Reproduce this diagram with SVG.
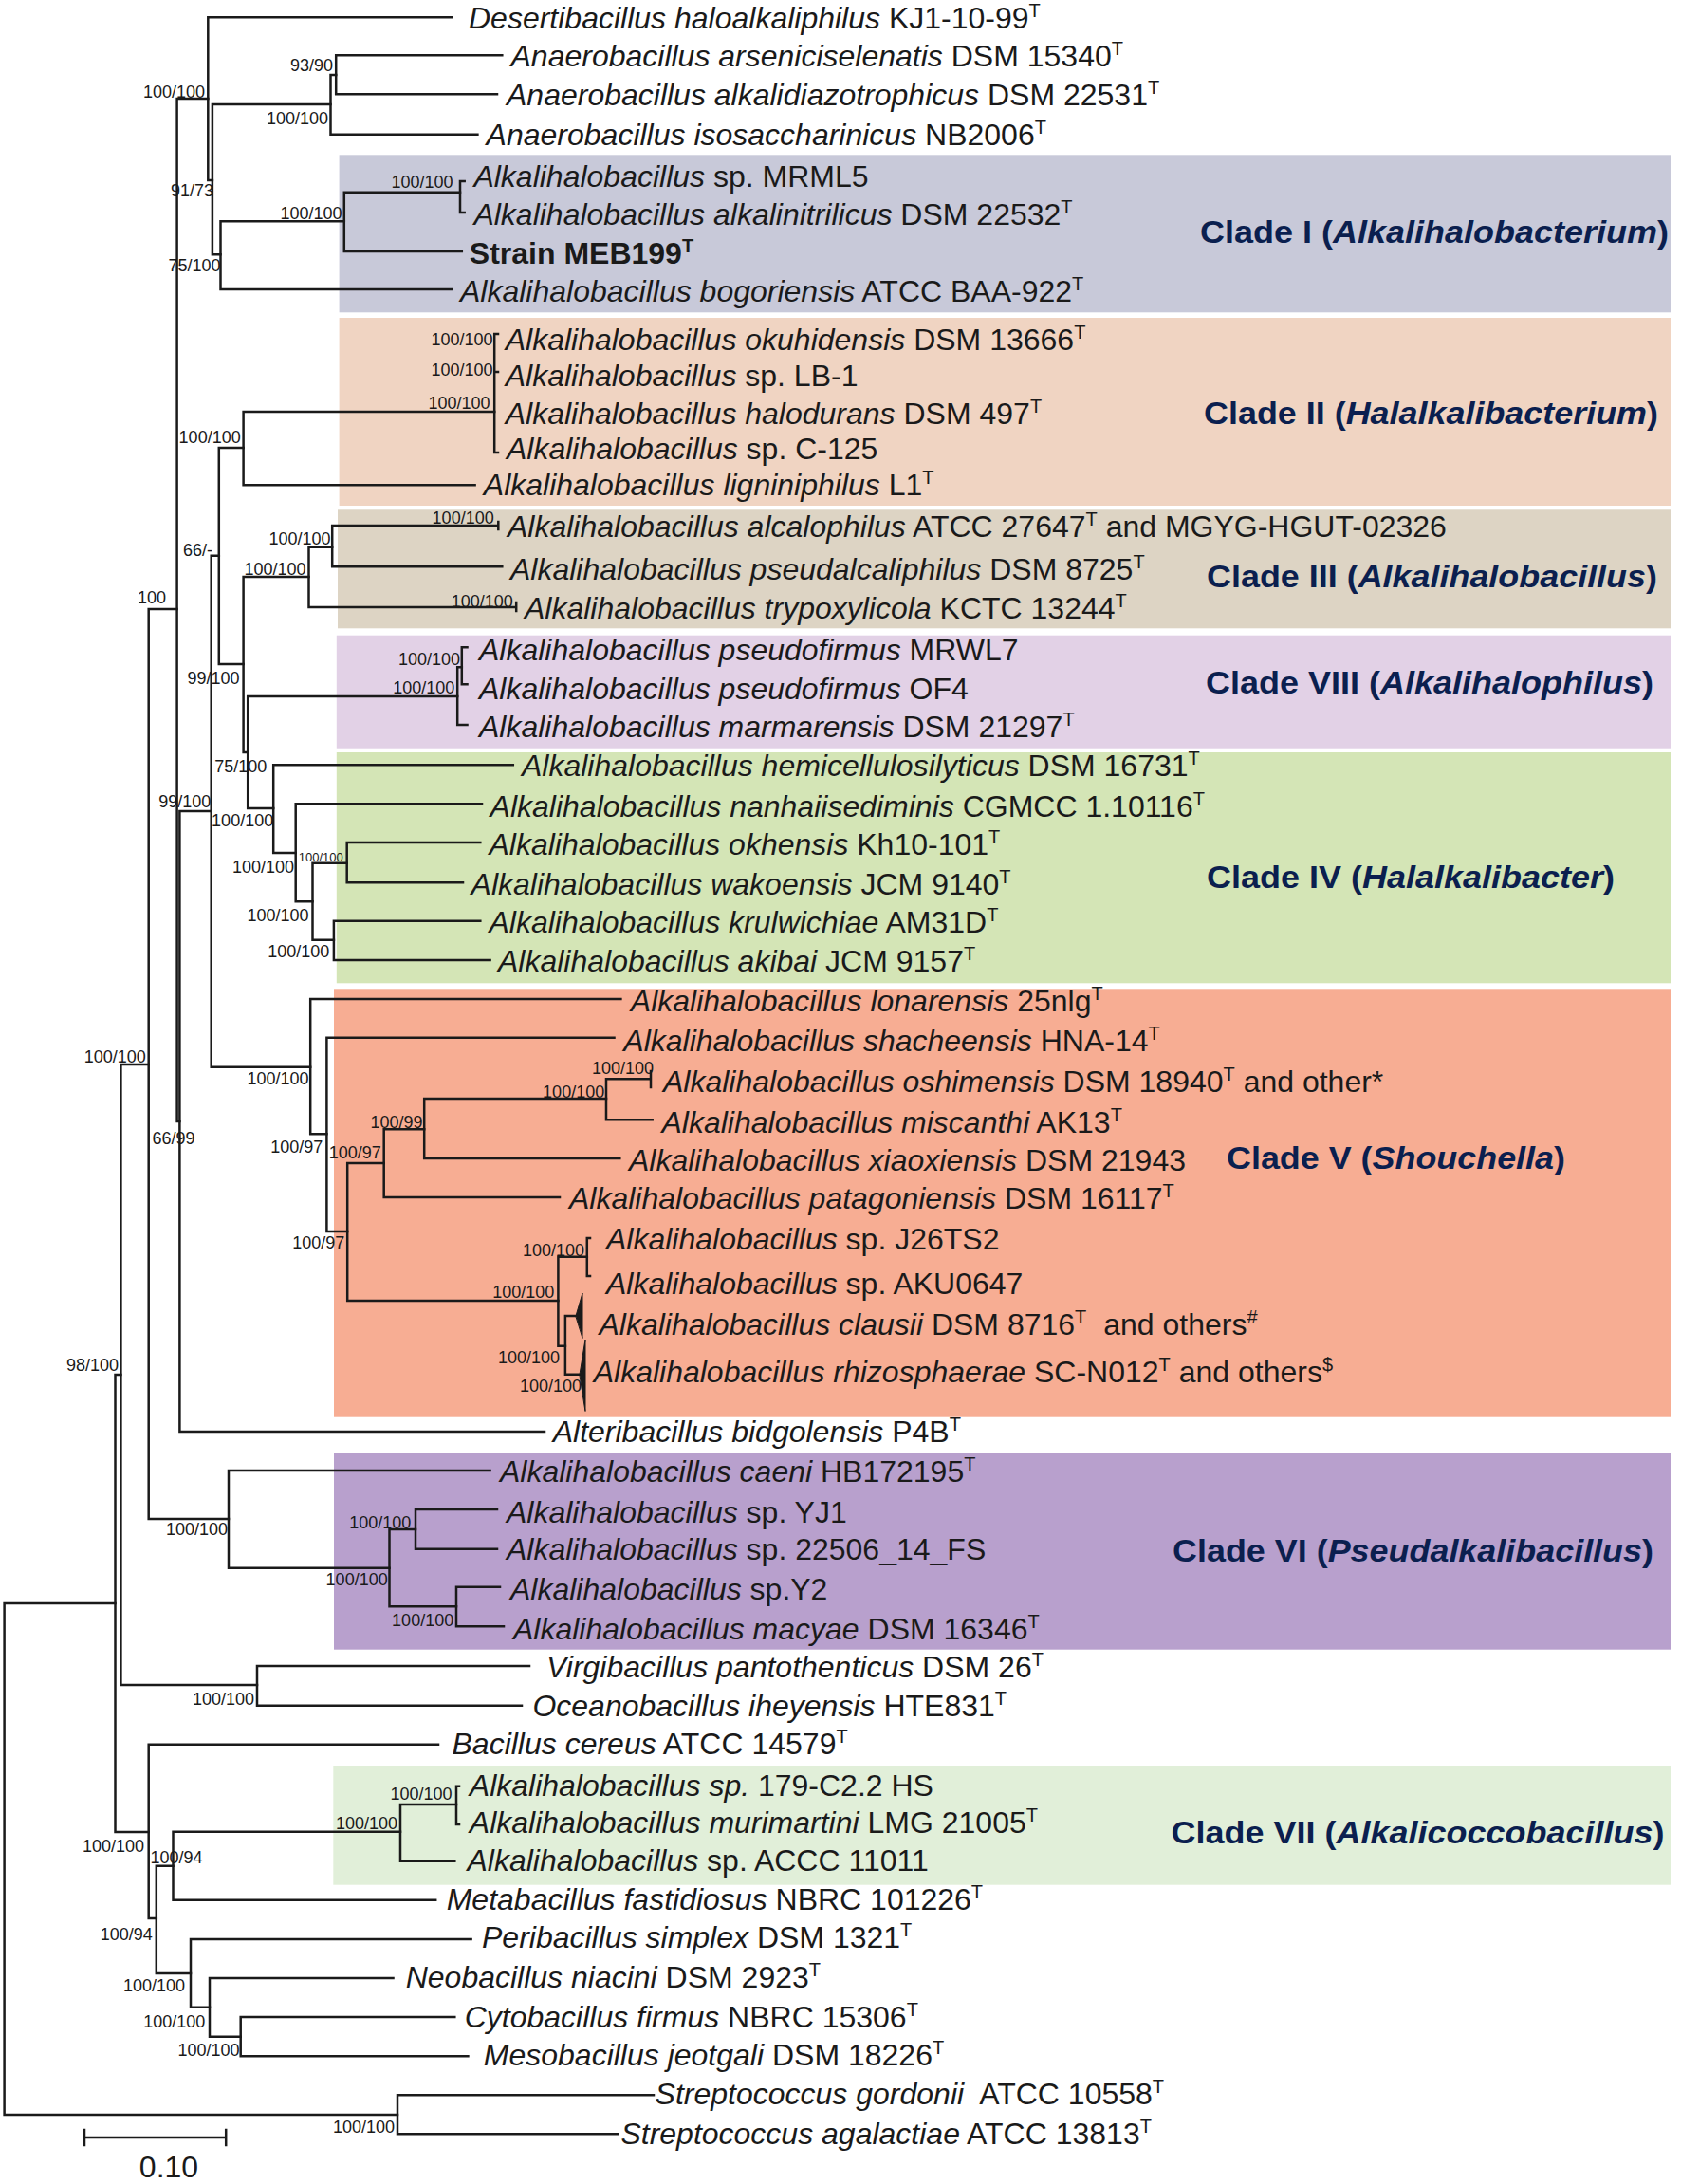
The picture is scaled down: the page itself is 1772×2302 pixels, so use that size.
<svg xmlns="http://www.w3.org/2000/svg" width="1772" height="2302" viewBox="0 0 1772 2302">
<style>
.t{font-family:"Liberation Sans",Arial,sans-serif;font-size:32px;fill:#1a1a1a}
.i{font-style:italic}
.s{font-size:20px}
.bo{font-weight:bold}
.sv{font-family:"Liberation Sans",Arial,sans-serif;font-size:18px;fill:#1a1a1a;text-anchor:end}
.cl{font-family:"Liberation Sans",Arial,sans-serif;font-size:33px;font-weight:bold;fill:#0b1f4f}
.e{fill:none;stroke:#1a1a1a;stroke-width:2.5;stroke-linecap:square}
.tri{fill:#1a1a1a;stroke:#1a1a1a;stroke-width:1}
</style>
<rect width="1772" height="2302" fill="#ffffff"/>
<g id="clade-boxes">
<g id="clade-I"><rect x="357.6" y="163.3" width="1403.4" height="166" fill="#c8c9d9"/><text class="cl" x="1265" y="256" textLength="494" lengthAdjust="spacingAndGlyphs">Clade I (<tspan class="i">Alkalihalobacterium</tspan>)</text></g>
<g id="clade-II"><rect x="357.6" y="335" width="1403.4" height="198" fill="#f0d4c2"/><text class="cl" x="1269" y="447" textLength="479" lengthAdjust="spacingAndGlyphs">Clade II (<tspan class="i">Halalkalibacterium</tspan>)</text></g>
<g id="clade-III"><rect x="356" y="537.3" width="1405" height="125" fill="#ddd4c4"/><text class="cl" x="1272" y="619" textLength="475" lengthAdjust="spacingAndGlyphs">Clade III (<tspan class="i">Alkalihalobacillus</tspan>)</text></g>
<g id="clade-VIII"><rect x="354.8" y="669.7" width="1406.2" height="119" fill="#e2d1e6"/><text class="cl" x="1271" y="731" textLength="472" lengthAdjust="spacingAndGlyphs">Clade VIII (<tspan class="i">Alkalihalophilus</tspan>)</text></g>
<g id="clade-IV"><rect x="354.8" y="793" width="1406.2" height="243.3" fill="#d4e5b6"/><text class="cl" x="1272" y="936" textLength="430" lengthAdjust="spacingAndGlyphs">Clade IV (<tspan class="i">Halalkalibacter</tspan>)</text></g>
<g id="clade-V"><rect x="352" y="1042.3" width="1409" height="451.4" fill="#f7ad93"/><text class="cl" x="1293" y="1232" textLength="357" lengthAdjust="spacingAndGlyphs">Clade V (<tspan class="i">Shouchella</tspan>)</text></g>
<g id="clade-VI"><rect x="352" y="1532" width="1409" height="206.7" fill="#b8a0cd"/><text class="cl" x="1236" y="1646" textLength="507" lengthAdjust="spacingAndGlyphs">Clade VI (<tspan class="i">Pseudalkalibacillus</tspan>)</text></g>
<g id="clade-VII"><rect x="351.3" y="1861" width="1409.7" height="125.7" fill="#e1efd9"/><text class="cl" x="1234.5" y="1943" textLength="520" lengthAdjust="spacingAndGlyphs">Clade VII (<tspan class="i">Alkalicoccobacillus</tspan>)</text></g>
</g>
<g id="connectors" class="e">
<path d="M4.6 1690V2229M4.6 1690H121.5M4.6 2229H419"/>
<path d="M121.5 1449V1931M121.5 1449H127.4M121.5 1931H156.7"/>
<path d="M127.4 1122V1776M127.4 1122H156.7M127.4 1776H271"/>
<path d="M156.7 642V1601M156.7 642H186.6M156.7 1601H241"/>
<path d="M186.6 104V1182M186.6 104H219.3M186.6 1182H189.4"/>
<path d="M219.3 18.3V190M219.3 18.3H476.5M219.3 190H223.9"/>
<path d="M223.9 110V268.3M223.9 110H348.5M223.9 268.3H232.5"/>
<path d="M348.5 79V141.7M348.5 79H354.2M348.5 141.7H503.4"/>
<path d="M354.2 58.3V99.3M354.2 58.3H529.3M354.2 99.3H524"/>
<path d="M232.5 233.3V305M232.5 233.3H362.8M232.5 305H476.5"/>
<path d="M362.8 202.7V265M362.8 202.7H485M362.8 265H486.8"/>
<path d="M485 191V224M485 191H489.7M485 224H489.7"/>
<path d="M189.4 855V1509M189.4 855H222.7M189.4 1509H574"/>
<path d="M222.7 585.7V1124.7M222.7 585.7H230.8M222.7 1124.7H327.2"/>
<path d="M230.8 472V700M230.8 472H256.6M230.8 700H256.6"/>
<path d="M256.6 434V511.3M256.6 434H521.2M256.6 511.3H500.6"/>
<path d="M521.2 352V477M521.2 352H525M521.2 392H525M521.2 477H525"/>
<path d="M256.6 608V793M256.6 608H325.5M256.6 793H261.2"/>
<path d="M325.5 576.7V640M325.5 576.7H350.2M325.5 640H544.2M544.2 635V644"/>
<path d="M350.2 554V597.3M350.2 554H525.3M525.3 550V558M350.2 597.3H529.3"/>
<path d="M261.2 734V852M261.2 734H482.2M261.2 852H288.2"/>
<path d="M482.2 703.3V764M482.2 703.3H486.8M482.2 764H492.5"/>
<path d="M486.8 682.3V721.3M486.8 682.3H492.5M486.8 721.3H492.5"/>
<path d="M288.2 806.3V899M288.2 806.3H540.8M288.2 899H311.7"/>
<path d="M311.7 847.3V950.3M311.7 847.3H508M311.7 950.3H329.5"/>
<path d="M329.5 909.7V990.7M329.5 909.7H365.7M329.5 990.7H351.9"/>
<path d="M365.7 888V930.3M365.7 888H506.3M365.7 930.3H488"/>
<path d="M351.9 970.7V1012M351.9 970.7H506.3M351.9 1012H516.6"/>
<path d="M327.2 1053V1195.3M327.2 1053H654.4M327.2 1195.3H344.4"/>
<path d="M344.4 1093.7V1298M344.4 1093.7H647.5M344.4 1298H366.2"/>
<path d="M366.2 1226V1371M366.2 1226H404.7M366.2 1371H588.4"/>
<path d="M404.7 1190.3V1262M404.7 1190.3H447.2M404.7 1262H590"/>
<path d="M447.2 1158V1221M447.2 1158H639M447.2 1221H653.3"/>
<path d="M639 1137.3V1180.3M639 1137.3H686M686 1129V1146M639 1180.3H687.7"/>
<path d="M588.4 1324.7V1418.7M588.4 1324.7H618.8M588.4 1418.7H595.9"/>
<path d="M618.8 1305V1345M618.8 1305H622M618.8 1345H622"/>
<path d="M595.9 1387V1448.7M595.9 1387H607M595.9 1448.7H611"/>
<polygon class="tri" points="607,1387 614,1363 614,1410"/>
<polygon class="tri" points="611,1448.7 617,1412 617,1487"/>
<path d="M241 1550V1652.7M241 1550H516.6M241 1652.7H410.5"/>
<path d="M410.5 1612V1693.3M410.5 1612H438M410.5 1693.3H481"/>
<path d="M438 1591V1632.7M438 1591H524M438 1632.7H524"/>
<path d="M481 1672.7V1714.3M481 1672.7H527M481 1714.3H531"/>
<path d="M271 1756V1797.7M271 1756H558M271 1797.7H550"/>
<path d="M156.7 1838.7V2022M156.7 1838.7H462M156.7 2022H164.8"/>
<path d="M164.8 1966.7V2080M164.8 1966.7H182.5M164.8 2080H201"/>
<path d="M182.5 1930.7V2002.7M182.5 1930.7H422M182.5 2002.7H459.2"/>
<path d="M422 1902V1961.7M422 1902H481M422 1961.7H479.3"/>
<path d="M481 1882.7V1923M481 1882.7H484M481 1923H484"/>
<path d="M201 2044V2115.8M201 2044H496.6M201 2115.8H221"/>
<path d="M221 2085V2146.7M221 2085H414.5M221 2146.7H253.7"/>
<path d="M253.7 2126V2167.3M253.7 2126H479.3M253.7 2167.3H493.4"/>
<path d="M419 2208.3V2249.3M419 2208.3H689M419 2249.3H651.6"/>
</g>
<g id="support-values">
<text class="sv" x="351" y="74.8">93/90</text>
<text class="sv" x="216" y="102.5">100/100</text>
<text class="sv" x="346" y="130.8">100/100</text>
<text class="sv" x="225" y="206.5">91/73</text>
<text class="sv" x="477.6" y="197.5">100/100</text>
<text class="sv" x="360.5" y="230.5">100/100</text>
<text class="sv" x="232.5" y="285.8">75/100</text>
<text class="sv" x="519.5" y="363.8">100/100</text>
<text class="sv" x="519.5" y="395.5">100/100</text>
<text class="sv" x="516.6" y="430.5">100/100</text>
<text class="sv" x="253.7" y="467.2">100/100</text>
<text class="sv" x="520.7" y="551.5">100/100</text>
<text class="sv" x="348.5" y="573.8">100/100</text>
<text class="sv" x="224" y="585.5">66/-</text>
<text class="sv" x="322.6" y="605.5">100/100</text>
<text class="sv" x="175" y="635.5">100</text>
<text class="sv" x="540.8" y="639.8">100/100</text>
<text class="sv" x="485" y="700.5">100/100</text>
<text class="sv" x="252.6" y="720.5">99/100</text>
<text class="sv" x="479.3" y="730.5">100/100</text>
<text class="sv" x="281.3" y="813.8">75/100</text>
<text class="sv" x="222.2" y="851.2">99/100</text>
<text class="sv" x="288.2" y="871.2">100/100</text>
<text class="sv" x="361.7" y="907.5" style="font-size:13px">100/100</text>
<text class="sv" x="310" y="919.5">100/100</text>
<text class="sv" x="325.5" y="970.5">100/100</text>
<text class="sv" x="347.3" y="1008.8">100/100</text>
<text class="sv" x="153.8" y="1119.5">100/100</text>
<text class="sv" x="689" y="1131.8">100/100</text>
<text class="sv" x="325.5" y="1142.8">100/100</text>
<text class="sv" x="637.2" y="1157.2">100/100</text>
<text class="sv" x="445.5" y="1188.5">100/99</text>
<text class="sv" x="205.5" y="1206.2">66/99</text>
<text class="sv" x="340.4" y="1215.2">100/97</text>
<text class="sv" x="401.8" y="1221.2">100/97</text>
<text class="sv" x="363.4" y="1315.8">100/97</text>
<text class="sv" x="616" y="1323.5">100/100</text>
<text class="sv" x="584.4" y="1367.8">100/100</text>
<text class="sv" x="590" y="1436.8">100/100</text>
<text class="sv" x="125.1" y="1445.2">98/100</text>
<text class="sv" x="613" y="1466.8">100/100</text>
<text class="sv" x="240" y="1617.5">100/100</text>
<text class="sv" x="433.4" y="1610.8">100/100</text>
<text class="sv" x="408.7" y="1670.8">100/100</text>
<text class="sv" x="478.2" y="1713.5">100/100</text>
<text class="sv" x="268" y="1796.5">100/100</text>
<text class="sv" x="476.5" y="1896.5">100/100</text>
<text class="sv" x="419" y="1927.5">100/100</text>
<text class="sv" x="152" y="1951.5">100/100</text>
<text class="sv" x="213.5" y="1963.8">100/94</text>
<text class="sv" x="160.7" y="2044.8">100/94</text>
<text class="sv" x="195" y="2099.2">100/100</text>
<text class="sv" x="216.4" y="2136.5">100/100</text>
<text class="sv" x="252.6" y="2167.2">100/100</text>
<text class="sv" x="416" y="2248.2">100/100</text>
</g>
<g id="leaves" class="t">
<g id="n01"><text x="494" y="30"><tspan class="i">Desertibacillus haloalkaliphilus</tspan> KJ1-10-99<tspan class="s" dy="-12">T</tspan></text></g>
<g id="n02"><text x="538.5" y="70"><tspan class="i">Anaerobacillus arseniciselenatis</tspan> DSM 15340<tspan class="s" dy="-12">T</tspan></text></g>
<g id="n03"><text x="534" y="111"><tspan class="i">Anaerobacillus alkalidiazotrophicus</tspan> DSM 22531<tspan class="s" dy="-12">T</tspan></text></g>
<g id="n04"><text x="512.6" y="153"><tspan class="i">Anaerobacillus isosaccharinicus</tspan> NB2006<tspan class="s" dy="-12">T</tspan></text></g>
<g id="n05"><text x="499.4" y="197"><tspan class="i">Alkalihalobacillus</tspan> sp. MRML5</text></g>
<g id="n06"><text x="499.4" y="237"><tspan class="i">Alkalihalobacillus alkalinitrilicus</tspan> DSM 22532<tspan class="s" dy="-12">T</tspan></text></g>
<g id="n07"><text x="494.8" y="278.3" class="bo">Strain MEB199<tspan class="s" dy="-12">T</tspan></text></g>
<g id="n08"><text x="485" y="318"><tspan class="i">Alkalihalobacillus bogoriensis</tspan> ATCC BAA-922<tspan class="s" dy="-12">T</tspan></text></g>
<g id="n09"><text x="532.7" y="369.3"><tspan class="i">Alkalihalobacillus okuhidensis</tspan> DSM 13666<tspan class="s" dy="-12">T</tspan></text></g>
<g id="n10"><text x="532.7" y="407.3"><tspan class="i">Alkalihalobacillus</tspan> sp. LB-1</text></g>
<g id="n11"><text x="532.7" y="447.3"><tspan class="i">Alkalihalobacillus halodurans</tspan> DSM 497<tspan class="s" dy="-12">T</tspan></text></g>
<g id="n12"><text x="534" y="484"><tspan class="i">Alkalihalobacillus</tspan> sp. C-125</text></g>
<g id="n13"><text x="509.8" y="522.3"><tspan class="i">Alkalihalobacillus ligniniphilus</tspan> L1<tspan class="s" dy="-12">T</tspan></text></g>
<g id="n14"><text x="535" y="565.7"><tspan class="i">Alkalihalobacillus alcalophilus</tspan> ATCC 27647<tspan class="s" dy="-12">T</tspan><tspan dy="12"> and MGYG-HGUT-02326</tspan></text></g>
<g id="n15"><text x="538" y="610.7"><tspan class="i">Alkalihalobacillus pseudalcaliphilus</tspan> DSM 8725<tspan class="s" dy="-12">T</tspan></text></g>
<g id="n16"><text x="553" y="652.3"><tspan class="i">Alkalihalobacillus trypoxylicola</tspan> KCTC 13244<tspan class="s" dy="-12">T</tspan></text></g>
<g id="n17"><text x="505" y="695.7"><tspan class="i">Alkalihalobacillus pseudofirmus</tspan> MRWL7</text></g>
<g id="n18"><text x="505" y="736.7"><tspan class="i">Alkalihalobacillus pseudofirmus</tspan> OF4</text></g>
<g id="n19"><text x="505" y="776.5"><tspan class="i">Alkalihalobacillus marmarensis</tspan> DSM 21297<tspan class="s" dy="-12">T</tspan></text></g>
<g id="n20"><text x="550" y="818"><tspan class="i">Alkalihalobacillus hemicellulosilyticus</tspan> DSM 16731<tspan class="s" dy="-12">T</tspan></text></g>
<g id="n21"><text x="516.6" y="861.3"><tspan class="i">Alkalihalobacillus nanhaiisediminis</tspan> CGMCC 1.10116<tspan class="s" dy="-12">T</tspan></text></g>
<g id="n22"><text x="515.5" y="901.3"><tspan class="i">Alkalihalobacillus okhensis</tspan> Kh10-101<tspan class="s" dy="-12">T</tspan></text></g>
<g id="n23"><text x="496.6" y="943"><tspan class="i">Alkalihalobacillus wakoensis</tspan> JCM 9140<tspan class="s" dy="-12">T</tspan></text></g>
<g id="n24"><text x="515.5" y="983"><tspan class="i">Alkalihalobacillus krulwichiae</tspan> AM31D<tspan class="s" dy="-12">T</tspan></text></g>
<g id="n25"><text x="525" y="1024"><tspan class="i">Alkalihalobacillus akibai</tspan> JCM 9157<tspan class="s" dy="-12">T</tspan></text></g>
<g id="n26"><text x="664.8" y="1066.3"><tspan class="i">Alkalihalobacillus lonarensis</tspan> 25nlg<tspan class="s" dy="-12">T</tspan></text></g>
<g id="n27"><text x="657.3" y="1108"><tspan class="i">Alkalihalobacillus shacheensis</tspan> HNA-14<tspan class="s" dy="-12">T</tspan></text></g>
<g id="n28"><text x="699" y="1150.5"><tspan class="i">Alkalihalobacillus oshimensis</tspan> DSM 18940<tspan class="s" dy="-12">T</tspan><tspan dy="12"> and other*</tspan></text></g>
<g id="n29"><text x="697.5" y="1193.7"><tspan class="i">Alkalihalobacillus miscanthi</tspan> AK13<tspan class="s" dy="-12">T</tspan></text></g>
<g id="n30"><text x="663" y="1233.7"><tspan class="i">Alkalihalobacillus xiaoxiensis</tspan> DSM 21943</text></g>
<g id="n31"><text x="600" y="1273.7"><tspan class="i">Alkalihalobacillus patagoniensis</tspan> DSM 16117<tspan class="s" dy="-12">T</tspan></text></g>
<g id="n32"><text x="639" y="1317"><tspan class="i">Alkalihalobacillus</tspan> sp. J26TS2</text></g>
<g id="n33"><text x="639" y="1363.7"><tspan class="i">Alkalihalobacillus</tspan> sp. AKU0647</text></g>
<g id="n34"><text x="631.5" y="1407"><tspan class="i">Alkalihalobacillus clausii</tspan> DSM 8716<tspan class="s" dy="-12">T</tspan><tspan dy="12" dx="9"> and others</tspan><tspan class="s" dy="-12">#</tspan></text></g>
<g id="n35"><text x="625.7" y="1457"><tspan class="i">Alkalihalobacillus rhizosphaerae</tspan> SC-N012<tspan class="s" dy="-12">T</tspan><tspan dy="12"> and others</tspan><tspan class="s" dy="-12">$</tspan></text></g>
<g id="n36"><text x="582.7" y="1520.3"><tspan class="i">Alteribacillus bidgolensis</tspan> P4B<tspan class="s" dy="-12">T</tspan></text></g>
<g id="n37"><text x="527" y="1562"><tspan class="i">Alkalihalobacillus caeni</tspan> HB172195<tspan class="s" dy="-12">T</tspan></text></g>
<g id="n38"><text x="534" y="1605.3"><tspan class="i">Alkalihalobacillus</tspan> sp. YJ1</text></g>
<g id="n39"><text x="534" y="1644.3"><tspan class="i">Alkalihalobacillus</tspan> sp. 22506_14_FS</text></g>
<g id="n40"><text x="538" y="1686"><tspan class="i">Alkalihalobacillus</tspan> sp.Y2</text></g>
<g id="n41"><text x="541" y="1727.7"><tspan class="i">Alkalihalobacillus macyae</tspan> DSM 16346<tspan class="s" dy="-12">T</tspan></text></g>
<g id="n42"><text x="576" y="1767.7"><tspan class="i">Virgibacillus pantothenticus</tspan> DSM 26<tspan class="s" dy="-12">T</tspan></text></g>
<g id="n43"><text x="561.4" y="1809.3"><tspan class="i">Oceanobacillus iheyensis</tspan> HTE831<tspan class="s" dy="-12">T</tspan></text></g>
<g id="n44"><text x="476.5" y="1849.3"><tspan class="i">Bacillus cereus</tspan> ATCC 14579<tspan class="s" dy="-12">T</tspan></text></g>
<g id="n45"><text x="494.8" y="1892.7"><tspan class="i">Alkalihalobacillus sp.</tspan> 179-C2.2 HS</text></g>
<g id="n46"><text x="494.8" y="1931.7"><tspan class="i">Alkalihalobacillus murimartini</tspan> LMG 21005<tspan class="s" dy="-12">T</tspan></text></g>
<g id="n47"><text x="492.5" y="1971.7"><tspan class="i">Alkalihalobacillus</tspan> sp. ACCC 11011</text></g>
<g id="n48"><text x="470.7" y="2013.3"><tspan class="i">Metabacillus fastidiosus</tspan> NBRC 101226<tspan class="s" dy="-12">T</tspan></text></g>
<g id="n49"><text x="508" y="2053.3"><tspan class="i">Peribacillus simplex</tspan> DSM 1321<tspan class="s" dy="-12">T</tspan></text></g>
<g id="n50"><text x="427.7" y="2095"><tspan class="i">Neobacillus niacini</tspan> DSM 2923<tspan class="s" dy="-12">T</tspan></text></g>
<g id="n51"><text x="489.7" y="2136.7"><tspan class="i">Cytobacillus firmus</tspan> NBRC 15306<tspan class="s" dy="-12">T</tspan></text></g>
<g id="n52"><text x="509.8" y="2176.7"><tspan class="i">Mesobacillus jeotgali</tspan> DSM 18226<tspan class="s" dy="-12">T</tspan></text></g>
<g id="n53"><text x="690.6" y="2218.3"><tspan class="i">Streptococcus gordonii</tspan><tspan dx="9"> ATCC 10558</tspan><tspan class="s" dy="-12">T</tspan></text></g>
<g id="n54"><text x="654.4" y="2260"><tspan class="i">Streptococcus agalactiae</tspan> ATCC 13813<tspan class="s" dy="-12">T</tspan></text></g>
</g>
<g id="scale-bar">
<path class="e" d="M89 2253H238.2M89 2245V2261M238.2 2245V2261"/>
<text class="t" x="178" y="2295" text-anchor="middle">0.10</text>
</g>
</svg>
